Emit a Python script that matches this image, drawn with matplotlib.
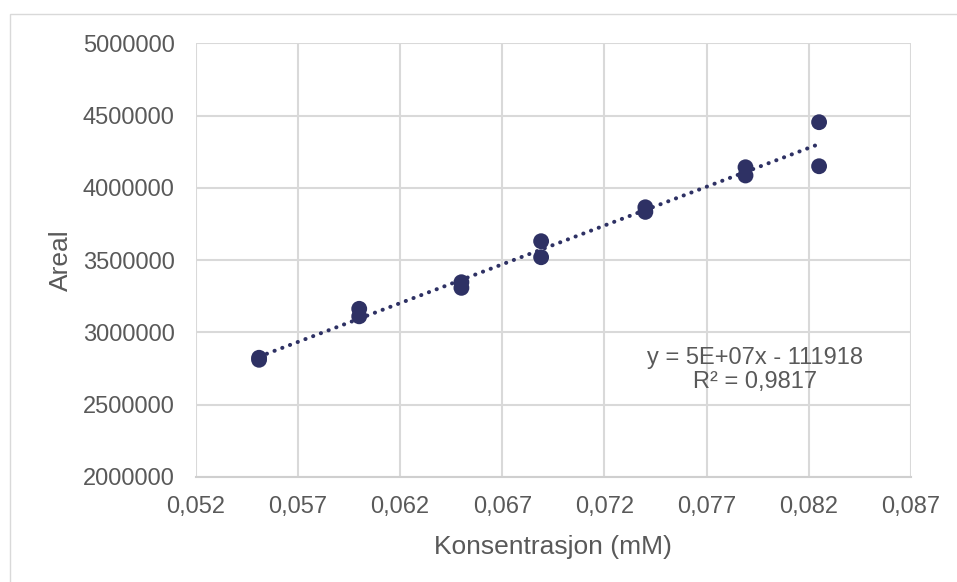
import numpy as np
import matplotlib
matplotlib.use('Agg')
import matplotlib.pyplot as plt
from matplotlib.patches import Rectangle
from matplotlib.ticker import FuncFormatter, FixedLocator, MultipleLocator

plt.rcParams['font.family'] = ['Liberation Sans', 'DejaVu Sans']

MARKER_COLOR = '#2E3164'
GRID_COLOR = '#d9d9d9'
TEXT_COLOR = '#595959'

# concentration (mM), two replicates per level
konsentrasjon = [0.0551, 0.0551, 0.0600, 0.0600, 0.0650, 0.0650, 0.0689, 0.0689,
                 0.0740, 0.0740, 0.0789, 0.0789, 0.0825, 0.0825]
areal = [2824000, 2810000, 3163000, 3111000, 3347000, 3308000, 3631000, 3520000,
         3866000, 3834000, 4143000, 4086000, 4455000, 4150000]
x_ticks = [0.052, 0.057, 0.062, 0.067, 0.072, 0.077, 0.082, 0.087]

trend_label = 'y = 5E+07x - 111918\nR² = 0,9817'

x = np.array(konsentrasjon)
y = np.array(areal)
slope, intercept = np.polyfit(x, y, 1)
xt = np.array([x.min(), x.max()])

fig = plt.figure(figsize=(9.57, 5.82), dpi=100, facecolor='white')
# chart area border (cropped on the right and bottom)
fig.patches.append(Rectangle((10 / 957, -0.1), 1.2, 1.1 - 14 / 582,
                             transform=fig.transFigure, fill=False,
                             edgecolor=GRID_COLOR, linewidth=1.0))

ax = fig.add_axes([0.2045, 0.1808, 0.952 - 0.2045, 0.9253 - 0.1808])
ax.set_xlim(0.052, 0.087)
ax.set_ylim(2000000, 5000000)
ax.xaxis.set_major_locator(FixedLocator(x_ticks))
ax.yaxis.set_major_locator(MultipleLocator(500000))
ax.xaxis.set_major_formatter(FuncFormatter(lambda v, p: f'{v:.3f}'.replace('.', ',')))
ax.yaxis.set_major_formatter(FuncFormatter(lambda v, p: f'{int(round(v))}'))

ax.grid(True, color=GRID_COLOR, linewidth=1.5, zorder=0)
for side in ['top', 'right', 'left']:
    ax.spines[side].set_visible(False)
ax.spines['bottom'].set_color('#cfcfcf')
ax.spines['bottom'].set_linewidth(1.5)
ax.tick_params(length=0, labelsize=17, labelcolor=TEXT_COLOR)
ax.tick_params(axis='x', pad=14)
ax.tick_params(axis='y', pad=15)

ax.plot(xt, slope * xt + intercept, color=MARKER_COLOR, linewidth=2.9,
        linestyle=(0, (0.05, 2.0)), dash_capstyle='round', zorder=3)
ax.scatter(x, y, s=130, color=MARKER_COLOR, edgecolors='none', zorder=4)

ax.set_xlabel('Konsentrasjon (mM)', fontsize=19, color=TEXT_COLOR, labelpad=12)
ax.set_ylabel('Areal', fontsize=19, color=TEXT_COLOR, labelpad=7)

ax.text(0.782, 0.246, trend_label, transform=ax.transAxes, ha='center', va='center',
        multialignment='center', fontsize=17, color=TEXT_COLOR, linespacing=1.12)

fig.savefig('out.png', dpi=100, facecolor='white')
